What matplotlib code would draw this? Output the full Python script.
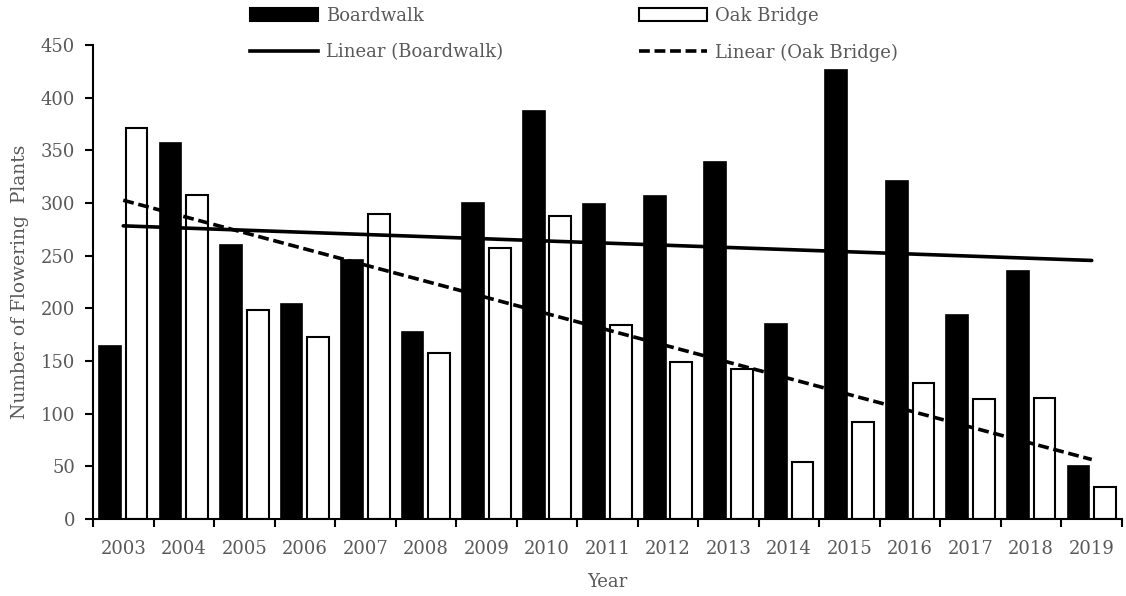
import numpy as np
from matplotlib import pyplot as plt
from matplotlib.lines import Line2D
from matplotlib.patches import Patch

years = [2003, 2004, 2005, 2006, 2007, 2008, 2009, 2010, 2011,
         2012, 2013, 2014, 2015, 2016, 2017, 2018, 2019]
boardwalk = [164, 357, 260, 204, 246, 178, 300, 387, 299,
             307, 339, 185, 426, 321, 194, 235, 50]
oak_bridge = [371, 308, 198, 173, 290, 158, 257, 288, 184,
              149, 142, 54, 92, 129, 114, 115, 30]

GRAY = '#595959'
DASH = (0, (3, 1.3))


def main():
    plt.rcParams['font.family'] = ['DejaVu Serif']
    fig = plt.figure(figsize=(11.26, 5.96), dpi=100)
    ax = fig.add_axes([93 / 1126, 1 - 519 / 596, 1029 / 1126, 474 / 596])

    x = np.arange(len(years))
    w = 0.36
    ax.bar(x - 0.22, boardwalk, w, color='black', edgecolor='black', linewidth=1.2)
    ax.bar(x + 0.22, oak_bridge, w, color='white', edgecolor='black', linewidth=1.5)

    # linear trendlines through the category centres
    kb = np.polyfit(x, boardwalk, 1)
    ko = np.polyfit(x, oak_bridge, 1)
    ax.plot(x, np.polyval(kb, x), color='black', lw=2.6, solid_capstyle='round')
    ax.plot(x, np.polyval(ko, x), color='black', lw=2.6, ls=DASH)

    ax.set_xlim(-0.5, len(years) - 0.5)
    ax.set_ylim(0, 450)
    ax.set_yticks(range(0, 451, 50))
    ax.set_xticks(x)
    ax.set_xticklabels([str(y) for y in years])
    ax.set_xticks(np.arange(-0.5, len(years), 1), minor=True)
    ax.tick_params(axis='x', which='major', length=0, pad=15, labelsize=13, labelcolor=GRAY)
    ax.tick_params(axis='x', which='minor', length=6, width=1.5, direction='out')
    ax.tick_params(axis='y', length=6, width=1.5, direction='out', pad=7,
                   labelsize=13, labelcolor=GRAY)
    for s in ['top', 'right']:
        ax.spines[s].set_visible(False)
    for s in ['left', 'bottom']:
        ax.spines[s].set_linewidth(1.5)

    ax.set_xlabel('Year', fontsize=13, color=GRAY, labelpad=11)
    ax.set_ylabel('Number of Flowering  Plants', fontsize=13.5, color=GRAY, labelpad=8)

    handles = [
        Patch(facecolor='black', edgecolor='black', linewidth=1.5),
        Line2D([], [], color='black', lw=2.6),
        Patch(facecolor='white', edgecolor='black', linewidth=1.5),
        Line2D([], [], color='black', lw=2.6, ls=DASH),
    ]
    labels = ['Boardwalk', 'Linear (Boardwalk)', 'Oak Bridge', 'Linear (Oak Bridge)']
    leg = fig.legend(handles, labels, ncol=2, loc='upper left',
                     bbox_to_anchor=(250 / 1126, 1 - 7 / 596), frameon=False,
                     fontsize=13, handlelength=3.77, handleheight=0.7,
                     handletextpad=0.44, columnspacing=7.5, labelspacing=1.02,
                     borderaxespad=0.0, borderpad=0.0)
    for t in leg.get_texts():
        t.set_color(GRAY)

    fig.savefig('out.png', dpi=100)


if __name__ == '__main__':
    main()
